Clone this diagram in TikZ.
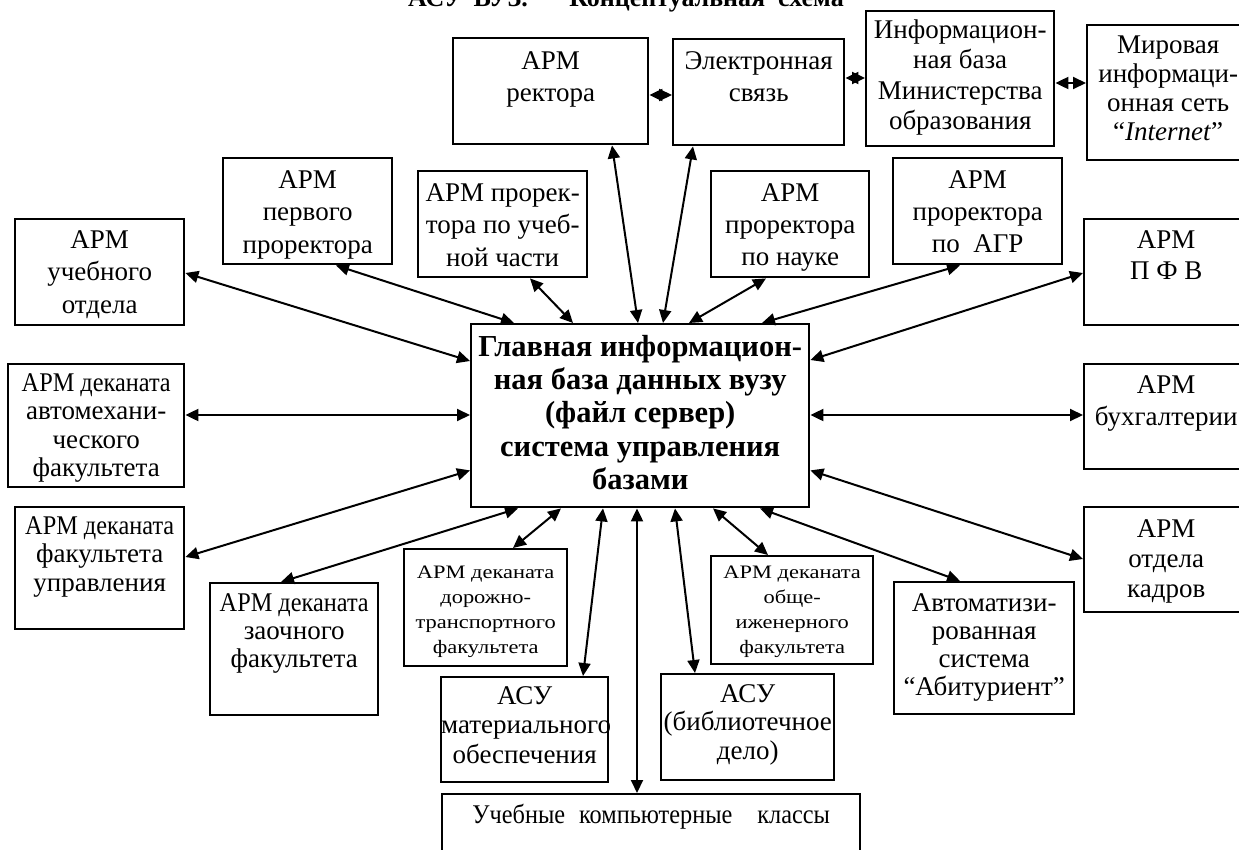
\documentclass[tikz,border=0pt]{standalone}
\usepackage{fontspec}
\setmainfont{Liberation Serif}
\newfontfamily\widefont[FakeStretch=1.18]{Liberation Serif}
\newfontfamily\narrowfont[FakeStretch=0.9]{Liberation Serif}
\usetikzlibrary{arrows.meta,calc}
\tikzset{
  blk/.style={draw, line width=2.4pt, inner sep=0pt, anchor=north west},
  arr/.style={line width=2pt, {Triangle[length=13pt,width=12pt]}-{Triangle[length=13pt,width=12pt]}},
}
% name x1 y1 x2 y2 firstbaseline size skip text
\newcommand\bx[9]{%
  \node[blk] (#1) at (#2,#3) {\parbox[t][\dimexpr#5pt-#3pt\relax][t]{\dimexpr#4pt-#2pt\relax}{\centering\fontsize{#7}{#8}\selectfont\rule{0pt}{#6pt}#9\par}};}
\begin{document}
\begin{tikzpicture}[x=1pt,y=-1pt]
\useasboundingbox (0,0) rectangle (1239,849);
\fill[white] (0,0) rectangle (1239,849);

\node[anchor=base west, inner sep=0pt, font=\bfseries\fontsize{26}{30}\selectfont] (title) at (408,6) {АСУ\hspace{0.4em}ВУЗ.\hspace{1.6em}Концептуальная\hspace{0.5em}схема};

% top row
\bx{rector}{452}{37}{647}{143}{31}{27}{32}{АРМ\\ректора}
\bx{elec}{672}{38}{843}{144}{30}{27}{32}{Электронная\\связь}
\bx{inf}{865}{10}{1053}{145}{27}{27}{30.5}{Информацион-\\ная база\\Министерства\\образования}
\bx{mir}{1086}{24}{1248}{159}{28}{27}{29}{Мировая\\информаци-\\онная сеть\\“\textit{Internet}”}

% second row
\bx{perv}{222}{157}{391}{263}{30}{27}{32.5}{АРМ\\первого\\проректора}
\bx{uch}{417}{170}{586}{276}{30}{27}{32.5}{АРМ проре\-к-\\тора по учеб-\\ной части}
\bx{nauka}{710}{170}{868}{276}{30}{27}{32}{АРМ\\проректора\\по науке}
\bx{agr}{892}{157}{1061}{263}{30}{27}{32}{АРМ\\проректора\\по\ \ АГР}

% left column
\bx{uo}{14}{218}{183}{324}{29}{27}{32.5}{АРМ\\учебного\\отдела}
\bx{avto}{7}{363}{183}{486}{27}{27}{28.5}{{\narrowfont АРМ деканата}\\автомехани-\\ческого\\факультета}
\bx{upr}{14}{506}{183}{628}{27}{27}{28.5}{{\narrowfont АРМ деканата}\\факультета\\управления}

% right column
\bx{pfv}{1083}{218}{1247}{324}{29}{27}{31}{АРМ\\П Ф В}
\bx{buh}{1083}{363}{1247}{468}{29}{27}{32}{АРМ\\бухгалтерии}
\bx{kadr}{1083}{506}{1247}{611}{30}{27}{30}{АРМ\\отдела\\кадров}

% bottom
\bx{zaoch}{209}{582}{377}{714}{28}{27}{28}{{\narrowfont АРМ деканата}\\заочного\\факультета}
\bx{dor}{403}{548}{566}{665}{29}{19}{25}{\widefont АРМ деканата\\дорожно-\\транспортного\\факультета}
\bx{asu}{440}{676}{607}{781}{27}{27}{29.5}{АСУ\\материального\\обеспечения}
\bx{ucheb}{441}{793}{859}{870}{29}{27}{32}{\narrowfont Учебные\hspace{14pt}компьютерные\hspace{25pt}классы}
\bx{bibl}{660}{673}{833}{779}{28}{27}{28.5}{АСУ\\(библиотечное\\дело)}
\bx{obsh}{710}{555}{872}{663}{22}{19}{25}{\widefont АРМ деканата\\обще-\\иженерного\\факультета}
\bx{abit}{893}{581}{1073}{713}{29}{27}{28}{Автоматизи-\\рованная\\система\\“Абитуриент”}

% main
\node[blk] (main) at (470,323) {\parbox[t][183pt][t]{338pt}{\centering\bfseries\fontsize{30.5}{33.3}\selectfont\rule{0pt}{32pt}Главная информацион-\\ная база данных вузу\\(файл сервер)\\система управления\\базами\par}};

% connectors
\draw[arr] ($(rector.north east)+(0,58)$) -- ($(elec.north west)+(0,57)$);
\draw[arr] ($(elec.north east)+(0,40)$) -- ($(inf.north west)+(0,68)$);
\draw[arr] ($(inf.north east)+(0,73)$) -- ($(mir.north west)+(0,59)$);

\draw[arr] ($(rector.south west)+(160,0)$) -- ($(main.north west)+(168,0)$);
\draw[arr] ($(elec.south west)+(21,0)$) -- ($(main.north west)+(193,0)$);
\draw[arr] ($(nauka.south west)+(56,0)$) -- ($(main.north west)+(219,0)$);
\draw[arr] ($(agr.south west)+(68,0)$) -- ($(main.north west)+(292,0)$);
\draw[arr] ($(pfv.north west)+(0,55)$) -- ($(main.north east)+(0,37)$);
\draw[arr] ($(buh.north west)+(0,52)$) -- ($(main.north east)+(0,92)$);
\draw[arr] ($(kadr.north west)+(0,53)$) -- ($(main.south east)+(0,-38)$);
\draw[arr] ($(abit.north west)+(67,0)$) -- ($(main.south west)+(290,0)$);
\draw[arr] ($(obsh.north west)+(58,0)$) -- ($(main.south west)+(243,0)$);
\draw[arr] ($(bibl.north west)+(35,0)$) -- ($(main.south west)+(205,0)$);
\draw[arr] ($(ucheb.north west)+(196,0)$) -- ($(main.south west)+(167,0)$);
\draw[arr] ($(asu.north west)+(143,0)$) -- ($(main.south west)+(133,0)$);
\draw[arr] ($(dor.north west)+(110,0)$) -- ($(main.south west)+(91,0)$);
\draw[arr] ($(zaoch.north west)+(72,0)$) -- ($(main.south west)+(48,0)$);
\draw[arr] ($(upr.north east)+(0,51)$) -- ($(main.south west)+(0,-38)$);
\draw[arr] ($(avto.north east)+(0,52)$) -- ($(main.north west)+(0,92)$);
\draw[arr] ($(uo.north east)+(0,55)$) -- ($(main.north west)+(0,38)$);
\draw[arr] ($(perv.south west)+(114,0)$) -- ($(main.north west)+(44,0)$);
\draw[arr] ($(uch.south west)+(113,0)$) -- ($(main.north west)+(103,0)$);
\end{tikzpicture}
\end{document}
